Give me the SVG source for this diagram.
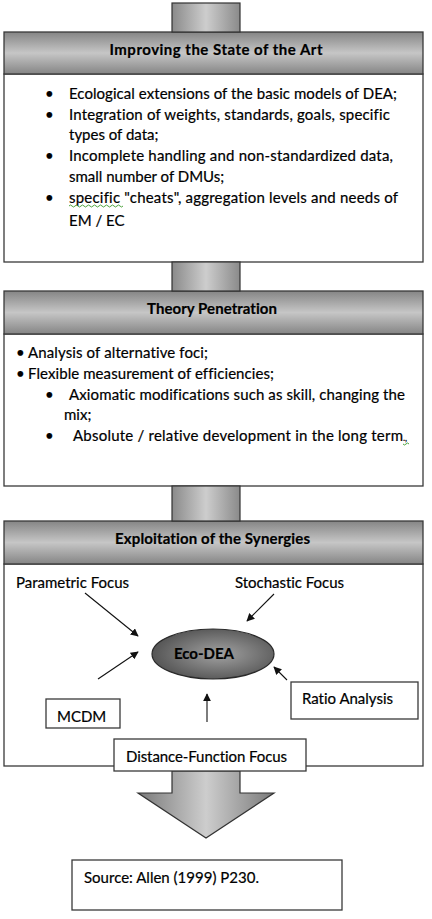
<svg xmlns="http://www.w3.org/2000/svg" width="432" height="919" viewBox="0 0 432 919">
<defs>
<linearGradient id="hdr" x1="0" y1="0" x2="0" y2="1">
<stop offset="0" stop-color="#858585"/>
<stop offset="0.5" stop-color="#c6c6c6"/>
<stop offset="1" stop-color="#858585"/>
</linearGradient>
<linearGradient id="shaft" x1="0" y1="0" x2="1" y2="0">
<stop offset="0" stop-color="#8a8a8a"/>
<stop offset="0.5" stop-color="#cdcdcd"/>
<stop offset="1" stop-color="#8a8a8a"/>
</linearGradient>
<linearGradient id="shaft2" gradientUnits="userSpaceOnUse" x1="138" y1="0" x2="274" y2="0">
<stop offset="0" stop-color="#7a7a7a"/>
<stop offset="0.5" stop-color="#cdcdcd"/>
<stop offset="1" stop-color="#7a7a7a"/>
</linearGradient>
<radialGradient id="ell" cx="0.55" cy="0.5" r="0.6">
<stop offset="0" stop-color="#a2a2a2"/>
<stop offset="1" stop-color="#4e4e4e"/>
</radialGradient>
<marker id="ah" viewBox="0 0 10 10" refX="9" refY="5" markerWidth="8" markerHeight="8" markerUnits="userSpaceOnUse" orient="auto">
<path d="M0,0 L10,5 L0,10 z" fill="#111"/>
</marker>
</defs>
<style>
.t{font-family:Lato,"Liberation Sans",sans-serif;font-size:15px;fill:#000;stroke:#000;stroke-width:0.2;font-variant-ligatures:none}
.b{font-weight:bold}
.box{fill:#fff;stroke:#3a3a3a;stroke-width:1.3}
.hd{fill:url(#hdr);stroke:#3a3a3a;stroke-width:1.3}
.sh{fill:url(#shaft);stroke:#333;stroke-width:1.2}
.ar{stroke:#111;stroke-width:1.1;fill:none;marker-end:url(#ah)}
.sq{fill:none;stroke:#3a9a2a;stroke-width:0.9}
</style>
<rect width="432" height="919" fill="#fff"/>

<g id="box1">
<rect class="box" x="4" y="74" width="419" height="188"/>
<rect class="hd" x="4" y="32" width="419" height="42"/>
<text class="t b" x="216" y="55" text-anchor="middle" textLength="213">Improving the State of the Art</text>
<g class="t">
<text x="45" y="99">•</text><text x="69" y="99" textLength="328">Ecological extensions of the basic models of DEA;</text>
<text x="45" y="120">•</text><text x="69" y="120" textLength="321">Integration of weights, standards, goals, specific</text>
<text x="69" y="140">types of data;</text>
<text x="45" y="161">•</text><text x="69" y="161" textLength="324">Incomplete handling and non-standardized data,</text>
<text x="69" y="182">small number of DMUs;</text>
<text x="45" y="203">•</text><text x="69" y="203" textLength="329">specific "cheats", aggregation levels and needs of</text>
<text x="69" y="226">EM / EC</text>
</g>
<path class="sq" d="M69,206 q1.5,-2 3,0 t3,0 t3,0 t3,0 t3,0 t3,0 t3,0 t3,0 t3,0 t3,0 t3,0 t3,0 t3,0 t3,0 t3,0 t3,0 t3,0 t3,0"/>
</g>

<g id="box2">
<rect class="box" x="4" y="334" width="419" height="152"/>
<rect class="hd" x="4" y="291" width="419" height="43"/>
<text class="t b" x="212" y="314" text-anchor="middle" textLength="130">Theory Penetration</text>
<g class="t">
<text x="16" y="358">•</text><text x="28" y="358" textLength="180">Analysis of alternative foci;</text>
<text x="16" y="379">•</text><text x="28" y="379" textLength="246">Flexible measurement of efficiencies;</text>
<text x="45" y="400">•</text><text x="69" y="400" textLength="336">Axiomatic modifications such as skill, changing the</text>
<text x="64" y="420">mix;</text>
<text x="45" y="441">•</text><text x="73" y="441" textLength="330">Absolute / relative development in the long term</text>
<text x="403" y="441" font-size="9">.,</text>
</g>
<path class="sq" d="M403,444 q1.5,2 3,0 t3,0"/>
</g>

<g id="box3">
<rect class="box" x="4" y="564" width="419" height="202"/>
<rect class="hd" x="4" y="521" width="419" height="43"/>
<text class="t b" x="212.5" y="544" text-anchor="middle" textLength="195">Exploitation of the Synergies</text>
</g>

<g id="parametric">
<text class="t" x="16" y="588" textLength="113">Parametric Focus</text>
</g>
<g id="stochastic">
<text class="t" x="235" y="588" textLength="109">Stochastic Focus</text>
</g>

<g id="ecodea">
<ellipse cx="213" cy="654" rx="61" ry="25" fill="url(#ell)" stroke="#2a2a2a" stroke-width="1.2"/>
<text class="t b" x="204" y="659" text-anchor="middle">Eco-DEA</text>
</g>

<g id="mcdm">
<rect class="box" x="46" y="699" width="74" height="29"/>
<text class="t" x="57" y="722">MCDM</text>
</g>

<g id="ratio">
<rect class="box" x="291" y="682" width="127" height="37"/>
<text class="t" x="302" y="704" textLength="91">Ratio Analysis</text>
</g>

<g id="source">
<rect class="box" x="72" y="860" width="270" height="50"/>
<text class="t" x="84" y="883" textLength="175">Source: Allen (1999) P230.</text>
</g>

<g id="connectors">
<rect class="sh" x="172" y="3" width="68" height="29"/>
<rect class="sh" x="172" y="262" width="68" height="29"/>
<rect class="sh" x="172" y="486" width="68" height="35"/>
<polygon points="172,771 240,771 240,793 274,793 206,838 138,793 172,793" fill="url(#shaft2)" stroke="#333" stroke-width="1.2"/>
<line class="ar" x1="85" y1="593" x2="138" y2="636"/>
<line class="ar" x1="274" y1="594" x2="247" y2="621"/>
<line class="ar" x1="98" y1="679" x2="138" y2="652"/>
<line class="ar" x1="287" y1="680" x2="274" y2="667"/>
<line class="ar" x1="207" y1="722" x2="207" y2="694"/>
</g>

<g id="distance">
<rect class="box" x="114" y="739" width="192" height="32"/>
<text class="t" x="126" y="762" textLength="161">Distance-Function Focus</text>
</g>
</svg>
